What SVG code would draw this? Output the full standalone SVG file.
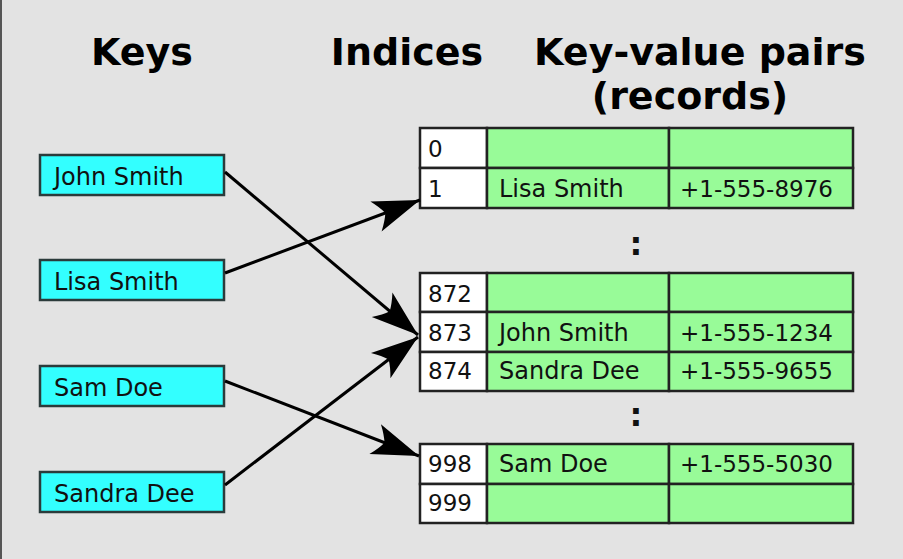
<svg xmlns="http://www.w3.org/2000/svg" width="903" height="559" viewBox="0 0 903 559">
<defs>
<style>
.hdr{font-family:"DejaVu Sans",sans-serif;font-weight:bold;font-size:38px;fill:#000;text-anchor:middle}
.key rect{fill:#33ffff;stroke:#2b3b3b;stroke-width:2.5}
.t{font-family:"DejaVu Sans",sans-serif;font-size:24px;fill:#111}
.n{font-family:"DejaVu Sans",sans-serif;font-size:23px;fill:#111}
.idx{fill:#fff;stroke:#222;stroke-width:2.5}
.cell{fill:#98fb98;stroke:#222;stroke-width:2.5}
.dots{font-family:"DejaVu Sans",sans-serif;font-weight:bold;font-size:32px;fill:#111;text-anchor:middle}
.conn line{stroke:#000;stroke-width:3}
</style>
<marker id="ah" markerUnits="userSpaceOnUse" markerWidth="54" markerHeight="40" viewBox="-50 -20 54 40" refX="0" refY="0" orient="auto">
<path d="M0,0 L-47,-16 Q-40,-7 -37,0 Q-40,7 -47,16 Z" fill="#000"/>
</marker>
</defs>
<rect x="0" y="0" width="903" height="559" fill="#e3e3e3"/>
<line x1="1" y1="0" x2="1" y2="559" stroke="#555" stroke-width="2"/>

<g id="headers">
<text class="hdr" x="142" y="65">Keys</text>
<text class="hdr" x="407" y="65">Indices</text>
<text class="hdr" x="700" y="65">Key-value pairs</text>
<text class="hdr" x="690" y="109">(records)</text>
</g>

<g id="key-john" class="key"><rect x="40" y="155" width="184" height="40"/><text class="t" x="54" y="185">John Smith</text></g>
<g id="key-lisa" class="key"><rect x="40" y="260" width="184" height="40"/><text class="t" x="54" y="290">Lisa Smith</text></g>
<g id="key-sam" class="key"><rect x="40" y="366" width="184" height="40"/><text class="t" x="54" y="396">Sam Doe</text></g>
<g id="key-sandra" class="key"><rect x="40" y="472" width="184" height="40"/><text class="t" x="54" y="502">Sandra Dee</text></g>

<g id="bucket-0">
<rect class="idx" x="420" y="128" width="67" height="40"/>
<rect class="cell" x="487" y="128" width="182" height="40"/>
<rect class="cell" x="669" y="128" width="184" height="40"/>
<text class="n" x="428" y="157">0</text>
</g>
<g id="bucket-1">
<rect class="idx" x="420" y="168" width="67" height="40"/>
<rect class="cell" x="487" y="168" width="182" height="40"/>
<rect class="cell" x="669" y="168" width="184" height="40"/>
<text class="n" x="428" y="197">1</text>
<text class="t" x="499" y="197">Lisa Smith</text>
<text class="n" x="680" y="197">+1-555-8976</text>
</g>
<text class="dots" x="636" y="255">:</text>

<g id="bucket-872">
<rect class="idx" x="420" y="273" width="67" height="39"/>
<rect class="cell" x="487" y="273" width="182" height="39"/>
<rect class="cell" x="669" y="273" width="184" height="39"/>
<text class="n" x="428" y="302">872</text>
</g>
<g id="bucket-873">
<rect class="idx" x="420" y="312" width="67" height="40"/>
<rect class="cell" x="487" y="312" width="182" height="40"/>
<rect class="cell" x="669" y="312" width="184" height="40"/>
<text class="n" x="428" y="341">873</text>
<text class="t" x="499" y="341">John Smith</text>
<text class="n" x="680" y="341">+1-555-1234</text>
</g>
<g id="bucket-874">
<rect class="idx" x="420" y="352" width="67" height="39"/>
<rect class="cell" x="487" y="352" width="182" height="39"/>
<rect class="cell" x="669" y="352" width="184" height="39"/>
<text class="n" x="428" y="379">874</text>
<text class="t" x="499" y="379">Sandra Dee</text>
<text class="n" x="680" y="379">+1-555-9655</text>
</g>
<text class="dots" x="636" y="426">:</text>

<g id="bucket-998">
<rect class="idx" x="420" y="444" width="67" height="40"/>
<rect class="cell" x="487" y="444" width="182" height="40"/>
<rect class="cell" x="669" y="444" width="184" height="40"/>
<text class="n" x="428" y="472">998</text>
<text class="t" x="499" y="472">Sam Doe</text>
<text class="n" x="680" y="472">+1-555-5030</text>
</g>
<g id="bucket-999">
<rect class="idx" x="420" y="484" width="67" height="39"/>
<rect class="cell" x="487" y="484" width="182" height="39"/>
<rect class="cell" x="669" y="484" width="184" height="39"/>
<text class="n" x="428" y="511">999</text>
</g>

<g id="connectors" class="conn">
<line x1="225" y1="172" x2="418" y2="335" marker-end="url(#ah)"/>
<line x1="225" y1="273" x2="420" y2="200" marker-end="url(#ah)"/>
<line x1="225" y1="381" x2="419" y2="456" marker-end="url(#ah)"/>
<line x1="225" y1="485" x2="418" y2="337" marker-end="url(#ah)"/>
</g>
</svg>
